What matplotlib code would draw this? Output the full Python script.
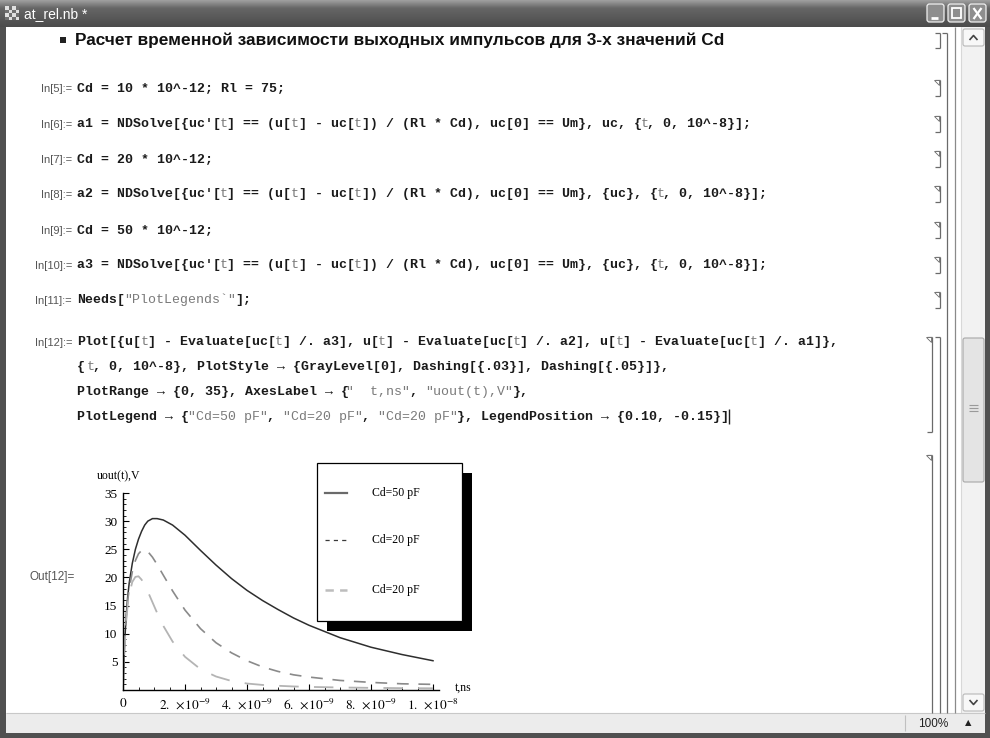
import matplotlib
matplotlib.use('Agg')
import matplotlib.pyplot as plt
from matplotlib.patches import Rectangle, FancyBboxPatch, Polygon
import numpy as np

plt.rcParams['lines.scale_dashes'] = False
plt.rcParams['mathtext.fontset'] = 'stix'

# ---------------- data ----------------
t_ns = [0, 0.05, 0.1, 0.15, 0.2, 0.3, 0.4, 0.5, 0.6, 0.7, 0.8, 0.95, 1.1, 1.3,
        1.6, 2.0, 2.5, 3.0, 3.5, 4.0, 4.5, 5.0, 5.5, 6.0, 7.0, 8.0, 9.0, 10.0]
u_cd50 = [0, 8, 13, 16.5, 19, 22.5, 25, 26.8, 28.2, 29.3, 30.0, 30.45, 30.45, 30.2,
          29.3, 27.5, 24.8, 22.2, 19.8, 17.7, 15.9, 14.3, 12.8, 11.5, 9.3, 7.6, 6.3, 5.2]
u_cd20 = [0, 7.8, 12.6, 15.8, 18, 21, 23, 24.2, 24.8, 24.9, 24.6, 23.6, 22.3, 20.4,
          17.6, 14.2, 10.9, 8.4, 6.6, 5.2, 4.1, 3.3, 2.7, 2.3, 1.7, 1.35, 1.1, 1.0]
u_cd10 = [0, 7.6, 12.1, 15, 17, 19.2, 20.1, 20.2, 19.6, 18.6, 17.5, 15.6, 13.7, 11.4,
          8.6, 5.9, 3.7, 2.4, 1.6, 1.15, 0.9, 0.75, 0.63, 0.55, 0.45, 0.38, 0.33, 0.3]
legend_labels = ["Cd=50 pF", "Cd=20 pF", "Cd=20 pF"]
x_ticks = [0, 2e-9, 4e-9, 6e-9, 8e-9, 1e-8]
x_tick_labels = ["$0$", r"$2.\ \times\!10^{-9}$", r"$4.\ \times\!10^{-9}$",
                 r"$6.\ \times\!10^{-9}$", r"$8.\ \times\!10^{-9}$", r"$1.\ \times\!10^{-8}$"]
y_ticks = [5, 10, 15, 20, 25, 30, 35]
y_tick_labels = ["5", "10", "15", "20", "25", "30", "35"]
x_label = "t,ns"
y_label = "uout(t),V"

window_title = "at_rel.nb *"
heading = "Расчет временной зависимости выходных импульсов для 3-х значений Cd"
cell_labels = ["In[5]:=", "In[6]:=", "In[7]:=", "In[8]:=", "In[9]:=", "In[10]:=",
               "In[11]:=", "In[12]:="]
cell_code = [
    ["Cd = 10 * 10^-12; Rl = 75;"],
    ["a1 = NDSolve[{uc'[t] == (u[t] - uc[t]) / (Rl * Cd), uc[0] == Um}, uc, {t, 0, 10^-8}];"],
    ["Cd = 20 * 10^-12;"],
    ["a2 = NDSolve[{uc'[t] == (u[t] - uc[t]) / (Rl * Cd), uc[0] == Um}, {uc}, {t, 0, 10^-8}];"],
    ["Cd = 50 * 10^-12;"],
    ["a3 = NDSolve[{uc'[t] == (u[t] - uc[t]) / (Rl * Cd), uc[0] == Um}, {uc}, {t, 0, 10^-8}];"],
    ['Needs["PlotLegends`"];'],
    ["Plot[{u[t] - Evaluate[uc[t] /. a3], u[t] - Evaluate[uc[t] /. a2], u[t] - Evaluate[uc[t] /. a1]},",
     "{t, 0, 10^-8}, PlotStyle → {GrayLevel[0], Dashing[{.03}], Dashing[{.05}]},",
     'PlotRange → {0, 35}, AxesLabel → {"  t,ns", "uout(t),V"},',
     'PlotLegend → {"Cd=50 pF", "Cd=20 pF", "Cd=20 pF"}, LegendPosition → {0.10, -0.15}]'],
]
out_label = "Out[12]="
zoom_text = "100%"

# ---------------- figure / pixel canvas ----------------
W, H = 990, 738
fig = plt.figure(figsize=(9.9, 7.38), dpi=100)
bg = fig.add_axes([0, 0, 1, 1])
bg.axis('off')

def rect(x0, y0, x1, y1, fc, ec='none', lw=0, z=1):
    bg.add_patch(Rectangle((x0, y0), x1 - x0, y1 - y0, facecolor=fc,
                           edgecolor=ec, linewidth=lw, zorder=z))

def line(xs, ys, c='#666666', lw=0.8, z=3, **kw):
    bg.plot(xs, ys, color=c, lw=lw, zorder=z, solid_capstyle='butt', **kw)

# window background
rect(0, 0, W, H, '#505050', z=0)
# title bar gradient
grad = np.concatenate([np.linspace(0.62, 0.42, 8), np.linspace(0.40, 0.30, 19)])
img = np.repeat(grad[:, None], 10, axis=1)
bg.imshow(img, cmap='gray', vmin=0, vmax=1, extent=(0, W, 27, 0), aspect='auto',
          zorder=0.5, interpolation='bilinear')
# icon
for i in range(4):
    for j in range(4):
        c = '#e0e0e0' if (i + j) % 2 == 0 else '#707070'
        rect(5 + i * 3.5, 6 + j * 3.5, 8.5 + i * 3.5, 9.5 + j * 3.5, c, z=2)
bg.text(24, 14, window_title, color='white', fontsize=10, family='Liberation Sans',
        va='center', ha='left', zorder=3)
# buttons
for bx in (927, 948, 969):
    bg.add_patch(FancyBboxPatch((bx, 4), 17, 18, boxstyle='round,pad=0,rounding_size=2.5',
                                facecolor='#8e8e8e', edgecolor='#f0f0f0', lw=0.9, zorder=2))
line([931, 938], [18, 18], c='white', lw=2.0)
rect(952, 8, 961, 18, 'none', ec='white', lw=1.3, z=3)
line([973.5, 981.5], [8, 19], c='white', lw=1.6)
line([973.5, 981.5], [19, 8], c='white', lw=1.6)

# content area
rect(6, 27, 961, 713, 'white', z=1)
# scrollbar
rect(961, 27, 985, 713, '#f2f2f2', z=1)
line([961, 961], [27, 713], c='#d8d8d8', lw=0.8)
for (y0, y1) in ((29, 46), (694, 711)):
    bg.add_patch(FancyBboxPatch((963, y0), 21, y1 - y0, boxstyle='round,pad=0,rounding_size=2',
                                facecolor='#f8f8f8', edgecolor='#b8b8b8', lw=0.8, zorder=2))
line([969.5, 973.5, 977.5], [40, 35.5, 40], c='#444444', lw=1.2)
line([969.5, 973.5, 977.5], [700, 704.5, 700], c='#444444', lw=1.2)
bg.add_patch(FancyBboxPatch((963, 338), 21, 144, boxstyle='round,pad=0,rounding_size=2',
                            facecolor='#e4e4e4', edgecolor='#a8a8a8', lw=0.8, zorder=2))
for gy in (405, 408, 411):
    line([969, 978], [gy, gy], c='#9a9a9a', lw=0.8)
# status bar
rect(6, 713, 985, 733, '#ececec', z=1)
line([6, 985], [713, 713], c='#c8c8c8', lw=0.8)
line([905, 905], [715, 731], c='#c0c0c0', lw=0.8)
bg.text(933, 724, zoom_text, fontsize=8.5, family='Liberation Sans', ha='center',
        va='center', color='#222222', zorder=3)
bg.text(968, 723, '▲', fontsize=6, family='DejaVu Sans', ha='center', va='center',
        color='#222222', zorder=3)

# ---------------- notebook text ----------------
bg.add_patch(Rectangle((60, 37), 6, 6, facecolor='#222222', zorder=3))
bg.text(75, 40, heading, fontsize=12.4, family='Liberation Sans', weight='bold',
        va='center', ha='left', color='#111111', zorder=3)

FS = 9.5
CW = 0.6 * FS * 100 / 72.0
X0 = 77

def styles_for(s):
    st = ['b'] * len(s)
    inq = False
    for i, ch in enumerate(s):
        if ch == '"':
            st[i] = 'g'
            inq = not inq
            continue
        if inq:
            st[i] = 'g'
        elif ch == 't':
            prev = s[i - 1] if i > 0 else ' '
            nxt = s[i + 1] if i + 1 < len(s) else ' '
            if not prev.isalnum() and not nxt.isalnum():
                st[i] = 'g'
    return st

def draw_code(s, y):
    st = styles_for(s)
    i = 0
    while i < len(s):
        j = i
        while j < len(s) and st[j] == st[i]:
            j += 1
        seg = s[i:j]
        if st[i] == 'b':
            bg.text(X0 + i * CW, y, seg, fontsize=FS, family='Liberation Mono',
                    weight='bold', color='#1a1a1a', va='center', ha='left', zorder=3)
        else:
            off = 1.8 if (i > 0 and s[i - 1] == '{' and seg == 't') else 0.0
            bg.text(X0 + i * CW + off, y, seg, fontsize=FS, family='Liberation Mono',
                    color='#7a7a7a', va='center', ha='left', zorder=3)
        i = j
    return X0 + len(s) * CW

cell_y = [88, 124, 159, 194, 230, 265, 300, 342]
line_step = 25
for lab, code, y in zip(cell_labels, cell_code, cell_y):
    bg.text(72, y + 1, lab, fontsize=8, family='Liberation Sans', color='#555555',
            ha='right', va='center', zorder=3)
    xe = X0
    for k, s in enumerate(code):
        xe = draw_code(s, y + k * line_step)
# text cursor
line([xe + 3, xe + 3], [409, 424], c='#222222', lw=1.0)

bg.text(30, 577, out_label, fontsize=8.5, family='Liberation Sans', color='#555555',
        ha='left', va='center', zorder=3)

# ---------------- cell brackets ----------------
BC = '#6a6a6a'
def bracket(x, y0, y1, tri=True, open_bottom=False):
    line([x, x], [y0, y1], c=BC, lw=0.9)
    line([x - 5, x], [y0, y0], c=BC, lw=0.9)
    if not open_bottom:
        line([x - 5, x], [y1, y1], c=BC, lw=0.9)
    if tri:
        bg.add_patch(Polygon([[x - 6, y0], [x - 1, y0], [x - 1, y0 + 5]], closed=True,
                             facecolor='white', edgecolor=BC, lw=0.6, zorder=4))

bracket(940, 33, 48, tri=False)
bracket(947, 33, 713, tri=False, open_bottom=True)
line([955, 955], [27, 713], c='#8a8a8a', lw=0.9)
for y in cell_y[:-1]:
    bracket(940, y - 8, y + 8)
bracket(932, 337, 432)
bracket(940, 337, 713, tri=False, open_bottom=True)
bracket(932, 455, 713, open_bottom=True)

bg.set_xlim(0, W)
bg.set_ylim(H, 0)

# ---------------- the plot ----------------
AX_L, AX_B, X_END, Y_TOP = 123, 690, 1.02e-8, 493
px_per_x = 310 / 1e-8
ax_w = X_END * px_per_x
ax = fig.add_axes([AX_L / W, (H - AX_B) / H, ax_w / W, (AX_B - Y_TOP) / H])
ax.patch.set_alpha(0)
ax.set_xlim(0, X_END)
ax.set_ylim(0, 35)
for sp in ('top', 'right'):
    ax.spines[sp].set_visible(False)
for sp in ('left', 'bottom'):
    ax.spines[sp].set_linewidth(1.0)
    ax.spines[sp].set_color('black')

t_s = [v * 1e-9 for v in t_ns]
ax.plot(t_s, u_cd50, color='#2e2e2e', lw=1.1)
ax.plot(t_s, u_cd20, color='#8a8a8a', lw=1.2, dashes=[8.5, 7])
ax.plot(t_s, u_cd10, color='#b4b4b4', lw=1.3, dashes=[14, 11])

ax.set_xticks(x_ticks)
ax.set_xticklabels(x_tick_labels)
ax.set_yticks(y_ticks)
ax.set_yticklabels(y_tick_labels, family='Liberation Serif')
ax.set_xticks(np.arange(0, 1.0001e-8, 0.5e-9), minor=True)
ax.set_yticks(np.arange(0, 35.01, 1), minor=True)
ax.tick_params(which='major', direction='in', length=4, width=0.8, labelsize=9.5,
               colors='black')
ax.tick_params(which='minor', direction='in', length=2.2, width=0.6)
ax.tick_params(axis='y', pad=4)
ax.tick_params(axis='x', pad=5)

bg.text(119, 476, y_label, fontsize=8.5, family='Liberation Serif', ha='center',
        va='center', zorder=3)
bg.text(455, 688, x_label, fontsize=8.5, family='Liberation Serif', ha='left',
        va='center', zorder=3)

# legend box with shadow
rect(327, 473, 472, 631, 'black', z=5)
rect(317, 463, 462, 621, 'white', ec='black', lw=0.9, z=6)
leg_y = [493, 540, 590]
bg.plot([325, 347], [leg_y[0]] * 2, color='#6a6a6a', lw=1.6, zorder=7)
bg.plot([325, 347], [leg_y[1]] * 2, color='#3a3a3a', lw=0.9, dashes=[3, 3], zorder=7)
bg.plot([325, 347], [leg_y[2]] * 2, color='#bdbdbd', lw=1.8, dashes=[6, 4.5], zorder=7)
for lab, y in zip(legend_labels, leg_y):
    bg.text(372, y, lab, fontsize=8.5, family='Liberation Serif', ha='left',
            va='center', zorder=7)

fig.savefig('out.png', dpi=100)
